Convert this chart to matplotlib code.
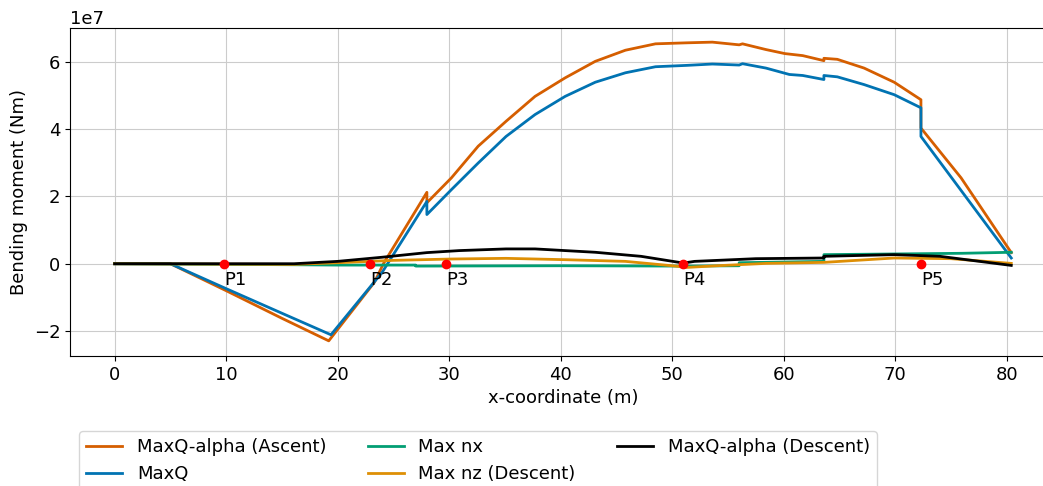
import numpy as np
import matplotlib
matplotlib.use("Agg")
import matplotlib.pyplot as plt

# ---- data (bending moment in 1e7 Nm) ----
x_asc = [0, 5.0, 10.0, 15.0, 19.2, 23.3, 24.1, 28.0, 28.0, 30.2, 32.6, 35.1, 37.7, 40.4, 43.1,
         45.8, 48.5, 51.3, 53.6, 56.0, 56.3, 58.4, 60.1, 61.7, 63.6, 63.6, 64.8, 67.2, 69.9,
         72.3, 72.3, 75.9, 80.4]
m_asc = [0, 0, -0.80, -1.62, -2.29, -0.55, 0.0, 2.12, 1.81, 2.55, 3.49, 4.23, 4.97, 5.52, 6.01,
         6.34, 6.53, 6.56, 6.58, 6.50, 6.53, 6.36, 6.24, 6.18, 6.03, 6.10, 6.07, 5.81, 5.39,
         4.87, 4.03, 2.55, 0.33]

x_maxq = [0, 5.0, 10.0, 15.0, 19.4, 24.0, 28.0, 28.0, 30.2, 32.6, 35.1, 37.7, 40.4, 43.1,
          45.8, 48.5, 51.3, 53.6, 56.0, 56.3, 58.4, 60.5, 61.7, 63.6, 63.6, 64.8, 67.2, 69.9,
          72.3, 72.3, 80.4]
m_maxq = [0, 0, -0.74, -1.47, -2.11, -0.25, 1.85, 1.46, 2.20, 2.99, 3.78, 4.43, 4.97, 5.39,
          5.67, 5.85, 5.89, 5.93, 5.90, 5.94, 5.81, 5.62, 5.59, 5.47, 5.59, 5.55, 5.32, 5.02,
          4.63, 3.78, 0.17]

x_nx = [0, 16.0, 20.0, 27.0, 27.0, 40.0, 51.0, 56.0, 56.0, 60.0, 63.6, 63.6, 69.9, 76.0, 80.4]
m_nx = [0, -0.03, -0.04, -0.04, -0.07, -0.06, -0.07, -0.06, 0.03, 0.05, 0.07, 0.27, 0.29, 0.31, 0.34]

x_nz = [0, 16.0, 20.0, 25.0, 30.2, 35.1, 40.4, 45.8, 50.0, 51.3, 54.0, 58.4, 63.6, 69.9, 75.0, 80.4]
m_nz = [0, -0.02, 0.03, 0.10, 0.14, 0.16, 0.12, 0.07, -0.06, -0.11, -0.06, 0.01, 0.04, 0.17, 0.15, 0.01]

x_desc = [0, 16.1, 20.0, 23.9, 28.0, 30.9, 35.1, 37.7, 43.1, 47.2, 51.0, 52.0, 57.5, 63.6, 63.6,
          69.9, 74.0, 80.4]
m_desc = [0, 0, 0.07, 0.19, 0.33, 0.39, 0.44, 0.44, 0.34, 0.22, 0.02, 0.07, 0.15, 0.17, 0.22,
          0.27, 0.22, -0.05]

p_x = [9.83, 22.9, 29.7, 51.0, 72.3]
p_labels = ["P1", "P2", "P3", "P4", "P5"]

scale = 1e7
fs = 13

fig = plt.figure(figsize=(10.43, 4.86), dpi=100)
# axes run past the right edge, the reference is cropped there
ax = fig.add_axes([70 / 1043, 130 / 486, 987 / 1043, 328 / 486])

ax.plot(x_asc, np.array(m_asc) * scale, color="#d55e00", lw=2, label="MaxQ-alpha (Ascent)")
ax.plot(x_maxq, np.array(m_maxq) * scale, color="#0173b2", lw=2, label="MaxQ")
ax.plot(x_nx, np.array(m_nx) * scale, color="#029e73", lw=2, label="Max nx")
ax.plot(x_nz, np.array(m_nz) * scale, color="#de8f05", lw=2, label="Max nz (Descent)")
ax.plot(x_desc, np.array(m_desc) * scale, color="black", lw=2, label="MaxQ-alpha (Descent)")

ax.plot(p_x, np.zeros(len(p_x)), "o", color="red", ms=6, zorder=5)
for px, lab in zip(p_x, p_labels):
    ax.annotate(lab, (px, 0), xytext=(0, -5), textcoords="offset points",
                ha="left", va="top", fontsize=fs)

ax.set_xlim(-4.0, 84.5)
ax.set_ylim(-2.74e7, 7.0e7)
ax.grid(True, color="#cccccc", lw=0.8)
ax.set_axisbelow(True)
ax.tick_params(labelsize=fs)
ax.yaxis.get_offset_text().set_fontsize(fs)
ax.set_xlabel("x-coordinate (m)", fontsize=fs)
ax.set_ylabel("Bending moment (Nm)", fontsize=fs)

fig.legend(loc="upper left", bbox_to_anchor=(79 / 1043, 1 - 431 / 486), ncol=3,
           fontsize=fs, frameon=True, borderaxespad=0, columnspacing=2.3)

fig.savefig("out.png", dpi=100)
